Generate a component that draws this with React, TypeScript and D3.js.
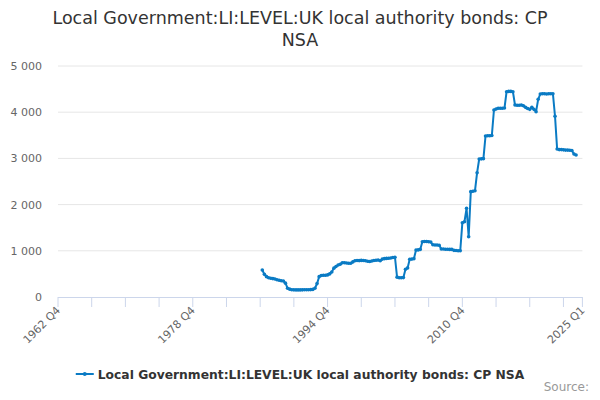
import { useEffect, useRef } from 'react';
import * as d3 from 'd3';

// quarter labels, 1962 Q4 .. 2025 Q1
const firstYear = 1962;
const firstQuarter = 4;
const quarterCount = 250;
const categories: string[] = Array.from({ length: quarterCount }, (_, i) => {
  const n = firstQuarter - 1 + i;
  return `${firstYear + Math.floor(n / 4)} Q${(n % 4) + 1}`;
});

// series begins at 1987 Q1
const seriesStart = '1987 Q1';
const seriesValues: number[] = [
  584, 490, 440, 418, 405, 398, 390, 375, 362, 352, 346, 300, 190, 170, 158, 155,
  154, 154, 154, 155, 156, 157, 158, 160, 165, 190, 290, 440, 465, 470, 472, 478,
  500, 540, 625, 660, 693, 710, 740, 742, 735, 730, 730, 760, 786, 790, 788, 792,
  790, 786, 775, 770, 780, 790, 795, 800, 786, 820, 830, 835, 840, 845, 855, 860,
  430, 418, 418, 420, 600, 630, 816, 820, 830, 1017, 1020, 1030, 1197, 1200, 1200, 1195,
  1190, 1130, 1125, 1125, 1120, 1040, 1040, 1035, 1035, 1030, 1030, 1010, 1005, 1002, 1002, 1608,
  1630, 1920, 1305, 2280, 2290, 2300, 2690, 2987, 2990, 2995, 3485, 3490, 3490, 3495, 4048, 4069,
  4084, 4084, 4084, 4090, 4444, 4450, 4450, 4444, 4156, 4150, 4150, 4155, 4140, 4105, 4080, 4062,
  4105, 4062, 4011, 4279, 4394, 4400, 4400, 4394, 4400, 4400, 4400, 3913, 3203, 3190, 3190, 3185,
  3180, 3180, 3175, 3170, 3095, 3073,
];

const yTicks = [0, 1000, 2000, 3000, 4000, 5000];
const labelledTicks = ['1962 Q4', '1978 Q4', '1994 Q4', '2010 Q4', '2025 Q1'];

const titleLines = ['Local Government:LI:LEVEL:UK local authority bonds: CP', 'NSA'];
const seriesName = 'Local Government:LI:LEVEL:UK local authority bonds: CP NSA';

const colour = '#0a7bc4';
const font = '"DejaVu Sans", sans-serif';

const Chart: React.FC = () => {
  const svgRef = useRef<SVGSVGElement | null>(null);

  useEffect(() => {
    if (!svgRef.current) return;
    const width = 600;
    const height = 400;

    const svg = d3.select(svgRef.current);
    svg.selectAll('*').remove();
    svg.attr('width', width).attr('height', height).style('font-family', font);

    const x = d3.scaleLinear().domain([0, quarterCount - 1]).range([58, 582.4]);
    const y = d3.scaleLinear().domain([0, 5000]).range([297, 66]);

    // title
    svg
      .append('text')
      .attr('text-anchor', 'middle')
      .style('font-size', '17.5px')
      .style('fill', '#333333')
      .selectAll('tspan')
      .data(titleLines)
      .join('tspan')
      .attr('x', 300)
      .attr('y', (_, i) => 24 + i * 22)
      .text((d) => d);

    // grid + y labels
    yTicks.forEach((t) => {
      if (t > 0) {
        svg
          .append('line')
          .attr('x1', 58)
          .attr('x2', 582.4)
          .attr('y1', y(t))
          .attr('y2', y(t))
          .style('stroke', '#e6e6e6');
      }
      svg
        .append('text')
        .attr('x', 42)
        .attr('y', y(t) + 4)
        .attr('text-anchor', 'end')
        .style('font-size', '11px')
        .style('fill', '#666666')
        .text(d3.format(',')(t).replace(/,/g, ' '));
    });

    // x axis
    svg
      .append('line')
      .attr('x1', 58)
      .attr('x2', 582.4)
      .attr('y1', 297.5)
      .attr('y2', 297.5)
      .style('stroke', '#ccd6eb');

    const tickIdx = categories
      .map((c, i) => ({ c, i }))
      .filter((d) => d.i % 16 === 0 || d.i === quarterCount - 1);

    tickIdx.forEach(({ i }) => {
      svg
        .append('line')
        .attr('x1', x(i))
        .attr('x2', x(i))
        .attr('y1', 297)
        .attr('y2', 307)
        .style('stroke', '#ccd6eb');
    });

    labelledTicks.forEach((label) => {
      const i = categories.indexOf(label);
      svg
        .append('text')
        .attr('transform', `translate(${x(i) + 3},${311}) rotate(-45)`)
        .attr('text-anchor', 'end')
        .style('font-size', '11px')
        .style('fill', '#666666')
        .text(label);
    });

    // series
    const offset = categories.indexOf(seriesStart);
    const points = seriesValues.map((v, i) => [offset + i, v] as [number, number]);

    const line = d3
      .line<[number, number]>()
      .x((d) => x(d[0]))
      .y((d) => y(d[1]));

    svg
      .append('path')
      .datum(points)
      .attr('d', line)
      .style('fill', 'none')
      .style('stroke', colour)
      .style('stroke-width', 2)
      .style('stroke-linejoin', 'round');

    svg
      .append('g')
      .selectAll('circle')
      .data(points)
      .join('circle')
      .attr('cx', (d) => x(d[0]))
      .attr('cy', (d) => y(d[1]))
      .attr('r', 1.8)
      .style('fill', colour);

    // legend, centred
    const legend = svg.append('g');
    legend
      .append('line')
      .attr('x1', 0)
      .attr('x2', 18)
      .attr('y1', 374)
      .attr('y2', 374)
      .style('stroke', colour)
      .style('stroke-width', 2);
    legend
      .append('circle')
      .attr('cx', 9)
      .attr('cy', 374)
      .attr('r', 2)
      .style('fill', colour);
    const legendText = legend
      .append('text')
      .attr('x', 22)
      .attr('y', 378.5)
      .style('font-size', '12.3px')
      .style('font-weight', 'bold')
      .style('fill', '#333333')
      .text(seriesName);
    const tw = (legendText.node() as SVGTextElement).getComputedTextLength();
    legend.attr('transform', `translate(${300 - (22 + tw) / 2},0)`);

    svg
      .append('text')
      .attr('x', 589)
      .attr('y', 391)
      .attr('text-anchor', 'end')
      .style('font-size', '12px')
      .style('fill', '#999999')
      .text('Source:');
  }, []);

  return <svg ref={svgRef} style={{ display: 'block' }} />;
};

export default function App() {
  return (
    <div style={{ margin: -8 }}>
      <Chart />
    </div>
  );
}
